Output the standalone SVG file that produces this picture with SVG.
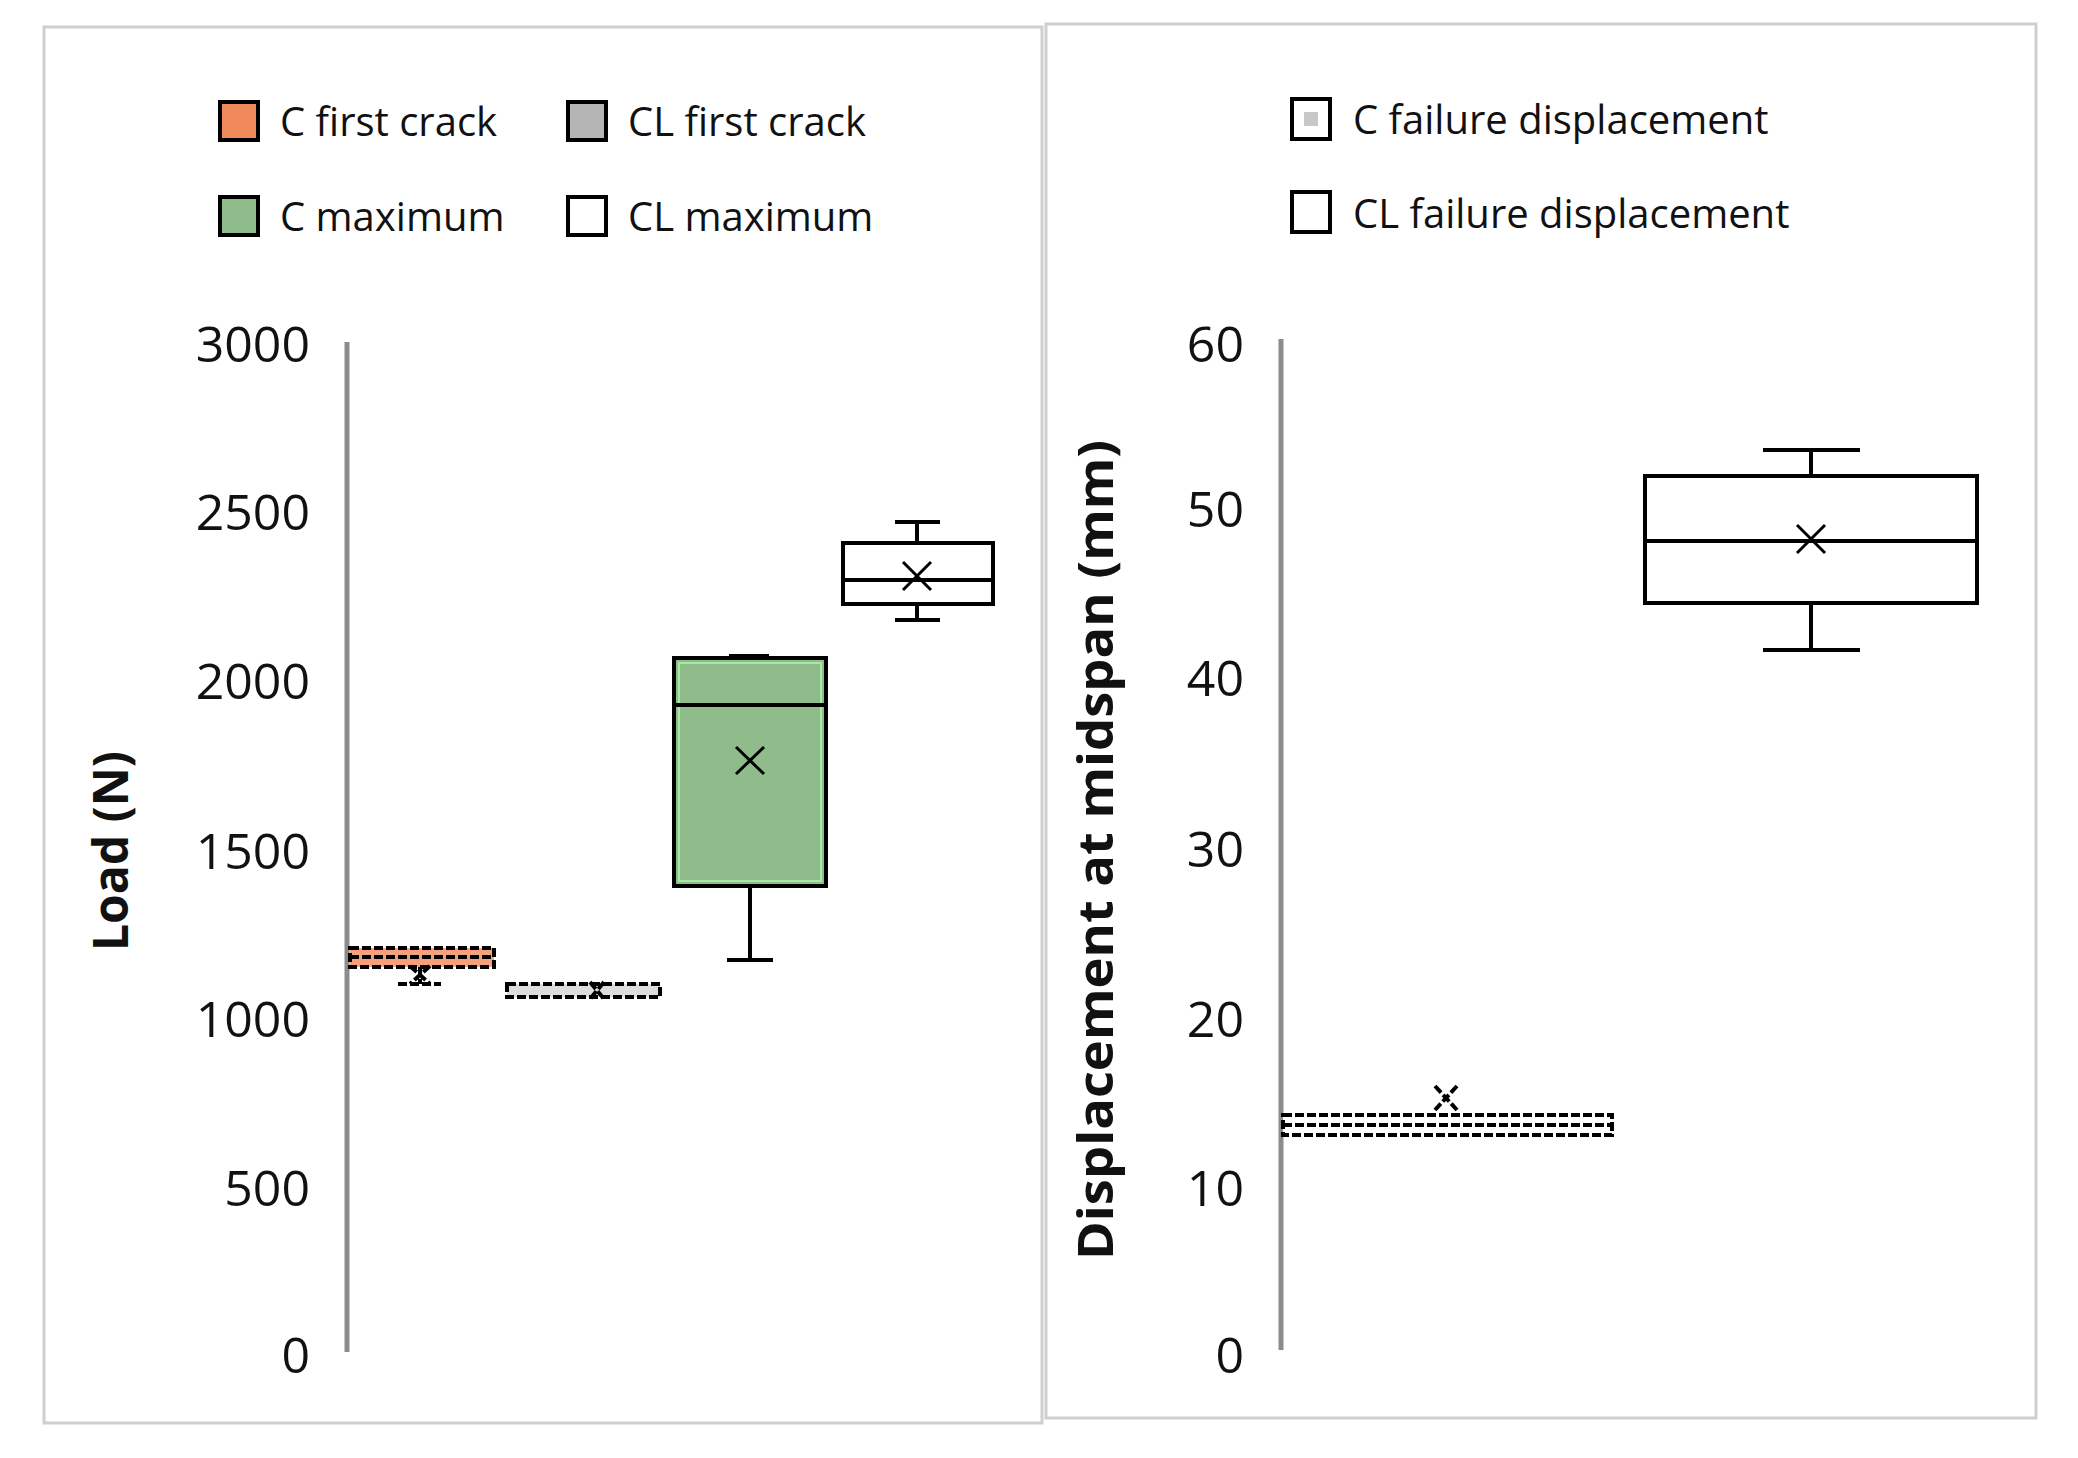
<svg xmlns="http://www.w3.org/2000/svg" width="2078" height="1458" viewBox="0 0 2078 1458">
<style>
.panel{fill:#fff;stroke:#cfcfcf;stroke-width:3}
.axis{stroke:#8c8c8c;stroke-width:5}
.tick{font-family:"Open Sans","Liberation Sans",sans-serif;font-size:50px;fill:#111;text-anchor:end}
.leg{font-family:"Open Sans","Liberation Sans",sans-serif;font-size:40px;fill:#111}
.title{font-family:"Open Sans","Liberation Sans",sans-serif;font-size:48px;font-weight:bold;fill:#111;text-anchor:middle}
.box{stroke:#000;stroke-width:4}
.ln{stroke:#000;stroke-width:4;fill:none}
.dash{stroke:#000;stroke-width:4;stroke-dasharray:9 3}
.x{stroke:#000;stroke-width:3;fill:none}
</style>
<rect width="2078" height="1458" fill="#fff"/>
<g id="left-panel">
<rect class="panel" x="44" y="27" width="998" height="1396"/>
<line class="axis" x1="347" y1="342" x2="347" y2="1352"/>
<g id="left-ticks">
<text class="tick" x="310" y="362">3000</text>
<text class="tick" x="310" y="530">2500</text>
<text class="tick" x="310" y="699">2000</text>
<text class="tick" x="310" y="869">1500</text>
<text class="tick" x="310" y="1037">1000</text>
<text class="tick" x="310" y="1206">500</text>
<text class="tick" x="310" y="1373">0</text>
</g>
<text class="title" transform="translate(128,851) rotate(-90)">Load (N)</text>
<g id="legend-left">
<rect x="220" y="102" width="38" height="38" fill="#f08a5a" stroke="#000" stroke-width="4"/>
<text class="leg" x="280" y="136">C first crack</text>
<rect x="568" y="102" width="38" height="38" fill="#b5b5b5" stroke="#000" stroke-width="4"/>
<text class="leg" x="628" y="136">CL first crack</text>
<rect x="220" y="197" width="38" height="38" fill="#8fbc8a" stroke="#000" stroke-width="4"/>
<text class="leg" x="280" y="231">C maximum</text>
<rect x="568" y="197" width="38" height="38" fill="#fff" stroke="#000" stroke-width="4"/>
<text class="leg" x="628" y="231">CL maximum</text>
</g>
</g>
<g id="c-first-crack">
<rect x="350" y="948" width="144" height="19" style="fill:#f4a07a" class="dash"/>
<line class="dash" x1="350" y1="957" x2="494" y2="957"/>
<line class="dash" x1="398" y1="984" x2="441" y2="984"/>
<line class="dash" x1="420" y1="967" x2="420" y2="984"/>
<path class="dash" style="fill:none" d="M410 966 L430 984 M430 966 L410 984"/>
</g>
<g id="cl-first-crack">
<rect x="507" y="984" width="153" height="13" style="fill:#ddd" class="dash"/>
<path class="dash" style="fill:none" d="M590 982 L604 999 M604 982 L590 999"/>
</g>
<g id="c-maximum">
<line class="ln" x1="750" y1="886" x2="750" y2="960"/>
<line class="ln" x1="727" y1="960" x2="773" y2="960"/>
<line class="ln" x1="729" y1="656" x2="769" y2="656"/>
<rect class="box" x="674" y="658" width="152" height="228" fill="#8fbc8a"/>
<rect x="679" y="663" width="142" height="218" fill="none" stroke="#a8e8a2" stroke-width="2"/>
<line class="ln" x1="674" y1="705" x2="826" y2="705"/>
<path class="x" d="M736 747 L764 774 M764 747 L736 774"/>
</g>
<g id="cl-maximum">
<line class="ln" x1="917" y1="522" x2="917" y2="543"/>
<line class="ln" x1="895" y1="522" x2="940" y2="522"/>
<line class="ln" x1="917" y1="604" x2="917" y2="620"/>
<line class="ln" x1="895" y1="620" x2="940" y2="620"/>
<rect class="box" x="843" y="543" width="150" height="61" fill="#fff"/>
<line class="ln" x1="843" y1="580" x2="993" y2="580"/>
<path class="x" d="M903 562 L931 590 M931 562 L903 590"/>
</g>
<g id="right-panel">
<rect class="panel" x="1046" y="24" width="990" height="1394"/>
<line class="axis" x1="1281" y1="339" x2="1281" y2="1350"/>
<g id="right-ticks">
<text class="tick" x="1244" y="362">60</text>
<text class="tick" x="1244" y="527">50</text>
<text class="tick" x="1244" y="696">40</text>
<text class="tick" x="1244" y="867">30</text>
<text class="tick" x="1244" y="1037">20</text>
<text class="tick" x="1244" y="1206">10</text>
<text class="tick" x="1244" y="1373">0</text>
</g>
<text class="title" transform="translate(1113,850) rotate(-90)" textLength="820" lengthAdjust="spacingAndGlyphs">Displacement at midspan (mm)</text>
<g id="legend-right">
<rect x="1292" y="99" width="38" height="40" fill="#fff" stroke="#000" stroke-width="4"/>
<rect x="1304" y="112" width="14" height="14" fill="#c8c8c8"/>
<text class="leg" x="1353" y="134">C failure displacement</text>
<rect x="1292" y="192" width="38" height="40" fill="#fff" stroke="#000" stroke-width="4"/>
<text class="leg" x="1353" y="228">CL failure displacement</text>
</g>
</g>
<g id="c-failure">
<rect x="1283" y="1115" width="329" height="20" style="fill:#fff" class="dash"/>
<line class="dash" x1="1283" y1="1125" x2="1612" y2="1125"/>
<path class="dash" style="fill:none" d="M1435 1086 L1457 1110 M1457 1086 L1435 1110"/>
</g>
<g id="cl-failure">
<line class="ln" x1="1811" y1="450" x2="1811" y2="476"/>
<line class="ln" x1="1763" y1="450" x2="1860" y2="450"/>
<line class="ln" x1="1811" y1="603" x2="1811" y2="650"/>
<line class="ln" x1="1763" y1="650" x2="1860" y2="650"/>
<rect class="box" x="1645" y="476" width="332" height="127" fill="#fff"/>
<line class="ln" x1="1645" y1="541" x2="1977" y2="541"/>
<path class="x" d="M1797 525 L1825 553 M1825 525 L1797 553"/>
</g>
</svg>
